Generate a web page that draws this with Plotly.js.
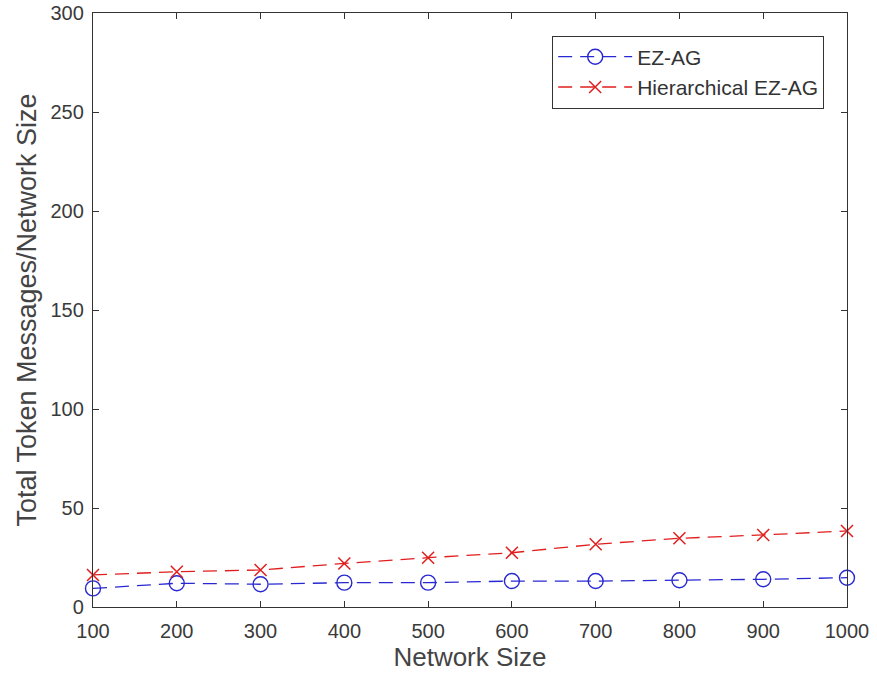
<!DOCTYPE html>
<html>
<head>
<meta charset="utf-8">
<script src="https://cdn.plot.ly/plotly-3.0.1.min.js"></script>
<style>html,body{margin:0;padding:0;background:#fff;}#chart{width:877px;height:685px;}</style>
</head>
<body>
<div id="chart"></div>
<script>
const networkSize = [100, 200, 300, 400, 500, 600, 700, 800, 900, 1000];
const ezag = [9.4, 12.0, 11.5, 12.3, 12.3, 13.1, 13.1, 13.5, 14.0, 14.8];
const hierEzag = [16.2, 17.8, 18.7, 22.0, 24.9, 27.4, 31.7, 34.7, 36.4, 38.4];
const xTicks = [100, 200, 300, 400, 500, 600, 700, 800, 900, 1000];
const yTicks = [0, 50, 100, 150, 200, 250, 300];

const FONT = 'Liberation Sans, Arial, sans-serif';
const blue = 'rgb(40,40,210)';
const red = 'rgb(225,30,30)';

const traces = [
  {
    x: networkSize, y: ezag, name: 'EZ-AG', type: 'scatter', mode: 'lines+markers',
    line: {color: blue, width: 1.3, dash: '14px,8px'},
    marker: {symbol: 'circle-open', size: 15, color: blue, line: {width: 1.4, color: blue}},
    cliponaxis: false
  },
  {
    x: networkSize, y: hierEzag, name: 'Hierarchical EZ-AG', type: 'scatter', mode: 'lines+markers',
    line: {color: red, width: 1.3, dash: '14px,8px'},
    marker: {symbol: 'x-thin-open', size: 12, color: red, line: {width: 1.5, color: red}},
    cliponaxis: false
  }
];

const axisCommon = {
  showgrid: false, zeroline: false, showline: true, linecolor: '#333', linewidth: 1.2,
  mirror: 'ticks', ticks: 'inside', ticklen: 6, tickcolor: '#333',
  tickfont: {family: FONT, size: 20, color: '#3a3a3a'}
};

const layout = {
  width: 877, height: 685,
  margin: {l: 93, r: 30, t: 13, b: 78},
  paper_bgcolor: '#fff', plot_bgcolor: '#fff',
  showlegend: true,
  xaxis: Object.assign({}, axisCommon, {
    range: [100, 1000], tickvals: xTicks, ticktext: xTicks.map(String),
    ticklabelstandoff: 6,
    title: {text: 'Network Size', font: {family: FONT, size: 26, color: '#444'}, standoff: 3}
  }),
  yaxis: Object.assign({}, axisCommon, {
    range: [0, 300], tickvals: yTicks, ticktext: yTicks.map(String),
    ticklabelstandoff: 4,
    title: {text: 'Total Token Messages/Network Size', font: {family: FONT, size: 27, color: '#444'}, standoff: 6}
  }),
  legend: {
    x: 0.609, y: 0.962, xanchor: 'left', yanchor: 'top',
    bgcolor: '#fff', bordercolor: '#333', borderwidth: 1,
    font: {family: FONT, size: 21, color: '#333'},
    tracegroupgap: 0, itemwidth: 74
  }
};

Plotly.newPlot('chart', traces, layout, {displayModeBar: false, staticPlot: true});
</script>
</body>
</html>
